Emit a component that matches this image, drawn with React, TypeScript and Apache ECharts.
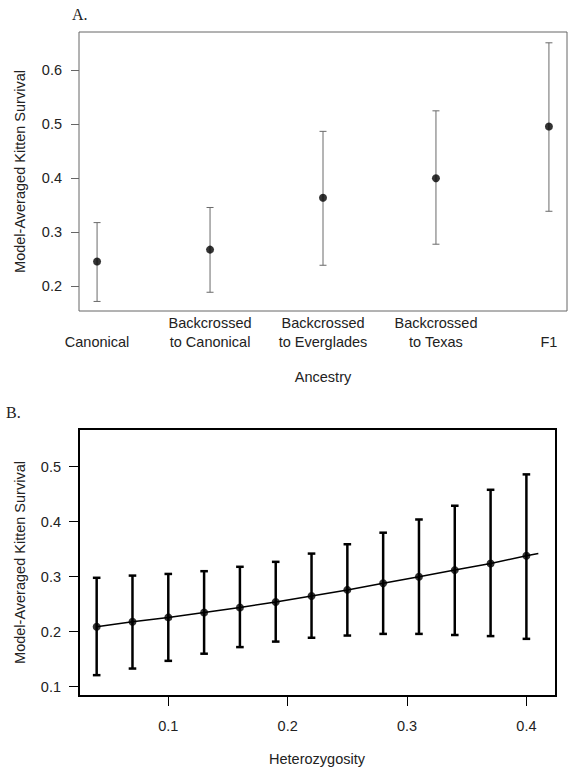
import React, { useEffect, useRef } from "react";
import * as echarts from "echarts";

// Panel A: ancestry categories
const ancestryLabels = [
  "\nCanonical",
  "Backcrossed\nto Canonical",
  "Backcrossed\nto Everglades",
  "Backcrossed\nto Texas",
  "\nF1",
];
const ancestryPos = [1, 2, 3, 4, 5];
const ancestryMean = [0.246, 0.268, 0.364, 0.4, 0.496];
const ancestryLow = [0.172, 0.189, 0.239, 0.278, 0.339];
const ancestryHigh = [0.318, 0.346, 0.487, 0.525, 0.651];
const ancestryYTicks = [0.2, 0.3, 0.4, 0.5, 0.6];

// Panel B: heterozygosity
const hetX = [0.04, 0.07, 0.1, 0.13, 0.16, 0.19, 0.22, 0.25, 0.28, 0.31, 0.34, 0.37, 0.4];
const hetMean = [0.209, 0.218, 0.226, 0.235, 0.244, 0.254, 0.265, 0.276, 0.288, 0.3, 0.312, 0.324, 0.338];
const hetLow = [0.121, 0.133, 0.147, 0.16, 0.172, 0.182, 0.189, 0.193, 0.196, 0.196, 0.194, 0.192, 0.187];
const hetHigh = [0.298, 0.302, 0.305, 0.31, 0.318, 0.327, 0.342, 0.359, 0.38, 0.404, 0.429, 0.458, 0.486];
const hetLineEndX = 0.41;
const hetLineEndY = 0.342;
const hetXTicks = [0.1, 0.2, 0.3, 0.4];
const hetYTicks = [0.1, 0.2, 0.3, 0.4, 0.5];

const SANS = "'Liberation Sans', Arial, Helvetica, sans-serif";
const SERIF = "'Liberation Serif', 'Times New Roman', serif";
const TXT = "#222";

function errorBarRenderer(color: string, width: number, capHalf: number) {
  return (params: any, api: any) => {
    const x = api.value(0);
    const lo = api.value(1);
    const hi = api.value(2);
    const pLo = api.coord([x, lo]);
    const pHi = api.coord([x, hi]);
    const style = { stroke: color, lineWidth: width };
    return {
      type: "group",
      children: [
        { type: "line", shape: { x1: pLo[0], y1: pLo[1], x2: pHi[0], y2: pHi[1] }, style },
        { type: "line", shape: { x1: pLo[0] - capHalf, y1: pLo[1], x2: pLo[0] + capHalf, y2: pLo[1] }, style },
        { type: "line", shape: { x1: pHi[0] - capHalf, y1: pHi[1], x2: pHi[0] + capHalf, y2: pHi[1] }, style },
      ],
    };
  };
}

export default function App() {
  const ref = useRef<HTMLDivElement>(null);
  useEffect(() => {
    if (!ref.current) return;
    const chart = echarts.init(ref.current, undefined, { renderer: "svg" });
    const fmt1 = (v: number) => v.toFixed(1);
    const option: any = {
      animation: false,
      backgroundColor: "#fff",
      grid: [
        { left: 79, top: 32, width: 488, height: 279, show: true, borderColor: "#666", borderWidth: 1, backgroundColor: "transparent" },
        { left: 79, top: 429, width: 477, height: 267, show: true, borderColor: "#000", borderWidth: 2, backgroundColor: "transparent" },
      ],
      xAxis: [
        {
          type: "value",
          gridIndex: 0,
          min: 0.84,
          max: 5.16,
          axisLine: { show: false },
          axisTick: { show: false },
          splitLine: { show: false },
          axisLabel: {
            customValues: ancestryPos,
            formatter: (v: number) => ancestryLabels[Math.round(v) - 1] ?? "",
            color: TXT,
            fontFamily: SANS,
            fontSize: 14.5,
            lineHeight: 18.4,
            margin: 3,
          },
        },
        {
          type: "value",
          gridIndex: 1,
          min: 0.0252,
          max: 0.4248,
          axisLine: { show: false },
          axisTick: { show: true, customValues: hetXTicks, length: 10, lineStyle: { color: "#000", width: 1 } },
          splitLine: { show: false },
          axisLabel: {
            customValues: hetXTicks,
            formatter: fmt1,
            color: TXT,
            fontFamily: SANS,
            fontSize: 14.5,
            margin: 22,
          },
        },
      ],
      yAxis: [
        {
          type: "value",
          gridIndex: 0,
          min: 0.1543,
          max: 0.671,
          axisLine: { show: false },
          axisTick: { show: true, customValues: ancestryYTicks, length: 8, lineStyle: { color: "#666", width: 1 } },
          splitLine: { show: false },
          axisLabel: {
            customValues: ancestryYTicks,
            formatter: fmt1,
            color: TXT,
            fontFamily: SANS,
            fontSize: 14.5,
            margin: 17,
          },
        },
        {
          type: "value",
          gridIndex: 1,
          min: 0.0831,
          max: 0.5685,
          axisLine: { show: false },
          axisTick: { show: true, customValues: hetYTicks, length: 10, lineStyle: { color: "#000", width: 1 } },
          splitLine: { show: false },
          axisLabel: {
            customValues: hetYTicks,
            formatter: fmt1,
            color: TXT,
            fontFamily: SANS,
            fontSize: 14.5,
            margin: 18,
          },
        },
      ],
      series: [
        {
          type: "custom",
          xAxisIndex: 0,
          yAxisIndex: 0,
          renderItem: errorBarRenderer("#6a6a6a", 1, 3.5),
          encode: { x: 0, y: [1, 2] },
          data: ancestryPos.map((p, i) => [p, ancestryLow[i], ancestryHigh[i]]),
          z: 2,
        },
        {
          type: "scatter",
          xAxisIndex: 0,
          yAxisIndex: 0,
          symbol: "circle",
          symbolSize: 8,
          itemStyle: { color: "#000" },
          data: ancestryPos.map((p, i) => [p, ancestryMean[i]]),
          z: 3,
        },
        {
          type: "line",
          xAxisIndex: 1,
          yAxisIndex: 1,
          showSymbol: false,
          lineStyle: { color: "#000", width: 1.5 },
          data: [...hetX.map((x, i) => [x, hetMean[i]]), [hetLineEndX, hetLineEndY]],
          z: 2,
        },
        {
          type: "custom",
          xAxisIndex: 1,
          yAxisIndex: 1,
          renderItem: errorBarRenderer("#000", 2.5, 3.8),
          encode: { x: 0, y: [1, 2] },
          data: hetX.map((x, i) => [x, hetLow[i], hetHigh[i]]),
          z: 2,
        },
        {
          type: "scatter",
          xAxisIndex: 1,
          yAxisIndex: 1,
          symbol: "circle",
          symbolSize: 8,
          itemStyle: { color: "#000" },
          data: hetX.map((x, i) => [x, hetMean[i]]),
          z: 3,
        },
      ],
      graphic: [
        { type: "text", x: 72, y: 14, style: { text: "A.", fill: TXT, font: `16px ${SERIF}`, textAlign: "left", textVerticalAlign: "middle" } },
        { type: "text", x: 6, y: 412, style: { text: "B.", fill: TXT, font: `16px ${SERIF}`, textAlign: "left", textVerticalAlign: "middle" } },
        { type: "text", x: 323, y: 377, style: { text: "Ancestry", fill: TXT, font: `14.5px ${SANS}`, textAlign: "center", textVerticalAlign: "middle" } },
        { type: "text", x: 317, y: 759, style: { text: "Heterozygosity", fill: TXT, font: `14.5px ${SANS}`, textAlign: "center", textVerticalAlign: "middle" } },
        { type: "text", x: 20, y: 171.5, rotation: Math.PI / 2, style: { text: "Model-Averaged Kitten Survival", fill: TXT, font: `14.5px ${SANS}`, textAlign: "center", textVerticalAlign: "middle" } },
        { type: "text", x: 20, y: 562.5, rotation: Math.PI / 2, style: { text: "Model-Averaged Kitten Survival", fill: TXT, font: `14.5px ${SANS}`, textAlign: "center", textVerticalAlign: "middle" } },
      ],
    };
    chart.setOption(option);
    return () => chart.dispose();
  }, []);
  return (
    <div
      ref={ref}
      style={{ position: "fixed", left: 0, top: 0, width: 579, height: 775, background: "#fff" }}
    />
  );
}
